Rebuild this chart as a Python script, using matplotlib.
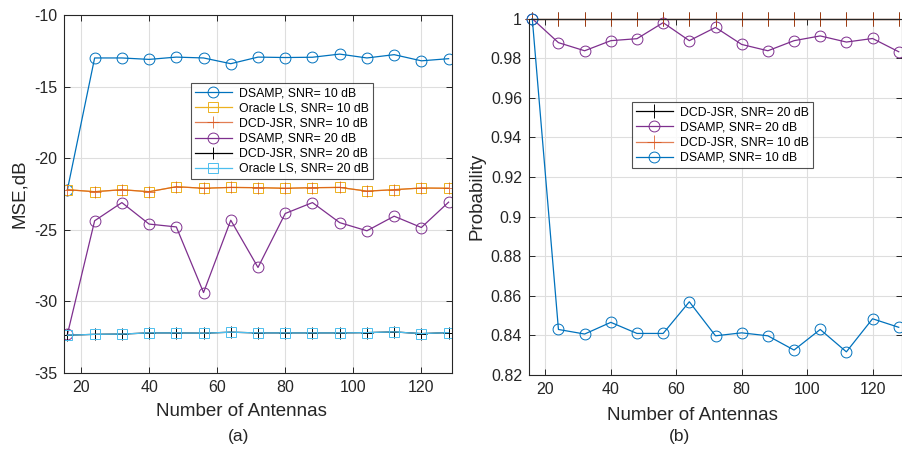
import matplotlib
matplotlib.use("Agg")
import matplotlib.pyplot as plt
import numpy as np

plt.rcParams['font.family'] = ['Liberation Sans', 'DejaVu Sans']
plt.rcParams['axes.unicode_minus'] = False

antennas = [16, 24, 32, 40, 48, 56, 64, 72, 80, 88, 96, 104, 112, 120, 128]

# (a) MSE, dB
mse_dsamp_10 = [-22.2, -13.0, -13.0, -13.1, -12.94, -13.0, -13.4, -12.94, -12.97, -12.95, -12.73, -13.0, -12.77, -13.2, -13.05]
mse_oracle_10 = [-22.2, -22.34, -22.2, -22.34, -21.99, -22.1, -22.04, -22.06, -22.1, -22.06, -22.04, -22.3, -22.2, -22.08, -22.1]
mse_dcd_10 = [-22.2, -22.34, -22.2, -22.34, -21.99, -22.1, -22.04, -22.06, -22.1, -22.06, -22.04, -22.3, -22.2, -22.08, -22.1]
mse_dsamp_20 = [-32.3, -24.37, -23.1, -24.6, -24.8, -29.38, -24.33, -27.63, -23.86, -23.1, -24.5, -25.07, -24.05, -24.84, -23.07]
mse_dcd_20 = [-32.36, -32.3, -32.28, -32.2, -32.2, -32.22, -32.15, -32.2, -32.2, -32.2, -32.2, -32.18, -32.13, -32.25, -32.18]
mse_oracle_20 = [-32.36, -32.3, -32.28, -32.2, -32.2, -32.22, -32.15, -32.2, -32.2, -32.2, -32.2, -32.18, -32.13, -32.25, -32.18]

# (b) Probability
p_dcd_20 = [1.0] * 15
p_dsamp_20 = [1.0, 0.9879, 0.9838, 0.9889, 0.9899, 0.998, 0.9889, 0.9956, 0.987, 0.9838, 0.9889, 0.9913, 0.9882, 0.990, 0.9833]
p_dcd_10 = [1.0] * 15
p_dsamp_10 = [1.0, 0.843, 0.8407, 0.8466, 0.841, 0.841, 0.857, 0.8398, 0.8413, 0.8398, 0.8326, 0.843, 0.8317, 0.8484, 0.8441]

C_BLUE = '#0072BD'
C_ORANGE = '#D95319'
C_YELLOW = '#EDB120'
C_PURPLE = '#7E2F8E'
C_LBLUE = '#4DBEEE'
C_TXT = '#262626'

fig = plt.figure(figsize=(9.02, 4.53), dpi=100)
W, H = 902, 453
axa = fig.add_axes([64 / W, 1 - 373 / H, (452 - 64) / W, (373 - 15) / H])
axb = fig.add_axes([529 / W, 1 - 375 / H, (902 - 529) / W, (375 - 18.7) / H])

lw = 0.9
ms = 7.8
mew = 0.7

def style(ax):
    ax.grid(True, color='#dedede', linewidth=0.8)
    ax.set_axisbelow(True)
    ax.tick_params(direction='in', top=True, right=True, length=4, width=0.7,
                   labelsize=11.5, colors=C_TXT, pad=5)
    for s in ax.spines.values():
        s.set_color(C_TXT)
        s.set_linewidth(0.8)

# ---- (a)
axa.plot(antennas, mse_dsamp_10, '-o', color=C_BLUE, lw=lw, ms=ms, mfc='none', mew=mew, label='DSAMP, SNR= 10 dB')
axa.plot(antennas, mse_oracle_10, '-s', color=C_YELLOW, lw=lw, ms=ms, mfc='none', mew=mew, label='Oracle LS, SNR= 10 dB')
axa.plot(antennas, mse_dcd_10, '-+', color=C_ORANGE, lw=lw, ms=ms + 1, mew=mew, alpha=0.75, label='DCD-JSR, SNR= 10 dB')
axa.plot(antennas, mse_dsamp_20, '-o', color=C_PURPLE, lw=lw, ms=ms, mfc='none', mew=mew, label='DSAMP, SNR= 20 dB')
axa.plot(antennas, mse_dcd_20, '-+', color='black', lw=lw, ms=ms + 1, mew=mew, label='DCD-JSR, SNR= 20 dB')
axa.plot(antennas, mse_oracle_20, '-s', color=C_LBLUE, lw=lw, ms=ms, mfc='none', mew=mew, label='Oracle LS, SNR= 20 dB')
axa.set_xlim(15, 129)
axa.set_ylim(-35, -10)
axa.set_xticks([20, 40, 60, 80, 100, 120])
axa.set_yticks([-35, -30, -25, -20, -15, -10])
style(axa)
axa.set_xlabel('Number of Antennas', fontsize=13.5, color=C_TXT)
axa.xaxis.set_label_coords(0.458, -0.085)
axa.set_ylabel('MSE,dB', fontsize=13.5, color=C_TXT)
leg = axa.legend(loc='upper left', bbox_to_anchor=(0.327, 0.809), fontsize=8.8,
                 frameon=True, fancybox=False, edgecolor=C_TXT, borderpad=0.35,
                 labelspacing=0.25, handlelength=3.0, handletextpad=0.6, borderaxespad=0)
leg.get_frame().set_linewidth(0.8)

# ---- (b)
axb.plot(antennas, p_dcd_20, '-+', color='black', lw=lw, ms=ms + 2, mew=mew, label='DCD-JSR, SNR= 20 dB', clip_on=False)
axb.plot(antennas, p_dsamp_20, '-o', color=C_PURPLE, lw=lw, ms=ms, mfc='none', mew=mew, label='DSAMP, SNR= 20 dB', clip_on=False)
axb.plot(antennas, p_dcd_10, '-+', color=C_ORANGE, lw=lw, ms=ms + 2, mew=mew, alpha=0.75, label='DCD-JSR, SNR= 10 dB', clip_on=False)
axb.plot(antennas, p_dsamp_10, '-o', color=C_BLUE, lw=lw, ms=ms, mfc='none', mew=mew, label='DSAMP, SNR= 10 dB', clip_on=False)
axb.set_xlim(15, 129)
axb.set_ylim(0.82, 1.0)
axb.set_xticks([20, 40, 60, 80, 100, 120])
axb.set_yticks(np.round(np.arange(0.82, 1.0001, 0.02), 2))
axb.set_yticklabels(['0.82', '0.84', '0.86', '0.88', '0.9', '0.92', '0.94', '0.96', '0.98', '1'])
style(axb)
axb.set_xlabel('Number of Antennas', fontsize=13.5, color=C_TXT)
axb.xaxis.set_label_coords(0.438, -0.09)
axb.set_ylabel('Probability', fontsize=13.5, color=C_TXT)
leg2 = axb.legend(loc='upper left', bbox_to_anchor=(0.275, 0.765), fontsize=8.8,
                  frameon=True, fancybox=False, edgecolor=C_TXT, borderpad=0.35,
                  labelspacing=0.25, handlelength=3.0, handletextpad=0.6, borderaxespad=0)
leg2.get_frame().set_linewidth(0.8)

fig.text(239 / W, 1 - 437 / H, '(a)', ha='center', va='center', fontsize=12.5, color=C_TXT)
fig.text(679 / W, 1 - 437 / H, '(b)', ha='center', va='center', fontsize=12.5, color=C_TXT)

fig.savefig('out.png', dpi=100)
